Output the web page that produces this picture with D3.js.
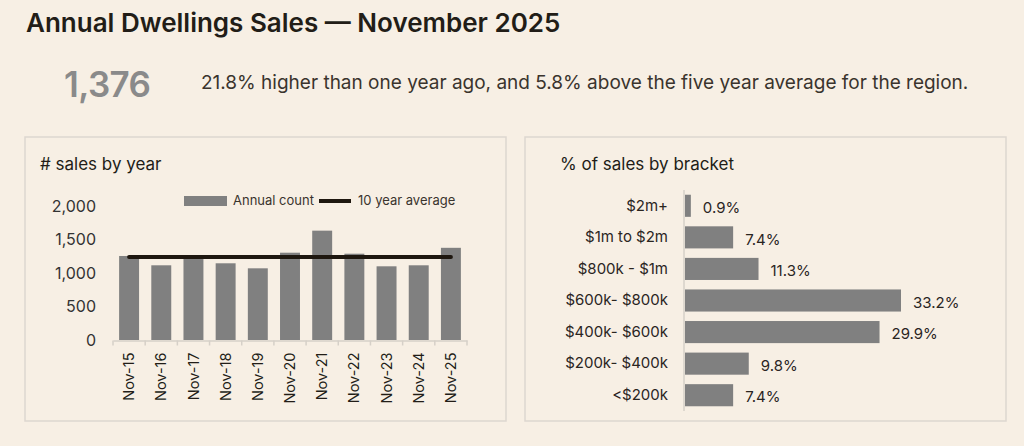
<!DOCTYPE html>
<html><head><meta charset="utf-8">
<script src="https://cdn.jsdelivr.net/npm/d3@7"></script>
<style>
html,body{margin:0;padding:0;background:#f7efe4;}
svg{display:block;font-family:Inter,"Noto Sans",sans-serif;}
</style></head>
<body>
<svg id="c" width="1024" height="446"></svg>
<script>
const years = ["Nov-15","Nov-16","Nov-17","Nov-18","Nov-19","Nov-20","Nov-21","Nov-22","Nov-23","Nov-24","Nov-25"];
const annualCount = [1254,1115,1235,1145,1070,1303,1632,1288,1100,1115,1376];
const tenYearAverage = 1240;
const yTicks = [0,500,1000,1500,2000];
const brackets = ["$2m+","$1m to $2m","$800k - $1m","$600k- $800k","$400k- $600k","$200k- $400k","<$200k"];
const bracketPct = [0.9,7.4,11.3,33.2,29.9,9.8,7.4];

const svg = d3.select("#c");
const dark = "#221d17", gray = "#808080", border = "#ddd7cf";

svg.append("text").attr("x",26).attr("y",32).attr("font-size",26).attr("font-weight",600)
  .attr("fill",dark).text("Annual Dwellings Sales — November 2025");
svg.append("text").attr("x",64).attr("y",97).attr("font-size",35).attr("font-weight",600)
  .attr("fill","#8a8a8a").attr("letter-spacing",-0.6).text("1,376");
svg.append("text").attr("x",201).attr("y",89).attr("font-size",19)
  .attr("fill","#3a342d").text("21.8% higher than one year ago, and 5.8% above the five year average for the region.");

// panels
[[25,137],[525,137]].forEach(([x,y])=>{
  svg.append("rect").attr("x",x).attr("y",y).attr("width",481).attr("height",284)
    .attr("fill","none").attr("stroke",border).attr("stroke-width",1.5);
});

// left chart
svg.append("text").attr("x",40).attr("y",170).attr("font-size",17).attr("fill",dark).text("# sales by year");
const x = d3.scaleBand().domain(years).range([113,467]).paddingInner(0.38).paddingOuter(0.19);
const y = d3.scaleLinear().domain([0,2000]).range([340,206]);
const g = svg.append("g");
g.selectAll("rect.bar").data(years).join("rect").attr("class","bar")
  .attr("x",d=>x(d)).attr("width",x.bandwidth())
  .attr("y",(d,i)=>y(annualCount[i])).attr("height",(d,i)=>y(0)-y(annualCount[i]))
  .attr("fill",gray);
// y axis labels
const ya = svg.append("g").attr("transform","translate(96,0)")
  .call(d3.axisLeft(y).tickValues(yTicks).tickSize(0).tickPadding(0).tickFormat(d3.format(",")));
ya.select(".domain").remove();
ya.selectAll("text").attr("font-size",16).attr("fill","#333").attr("font-family","Inter,sans-serif");
// x axis
const xa = svg.append("g").attr("transform","translate(0,340.5)")
  .call(d3.axisBottom(x).tickSize(0));
xa.select(".domain").attr("stroke","#d6d0c8").attr("stroke-width",1.5);
xa.selectAll(".tick line").remove();
const bounds = years.map(d=>x(d)-x.step()*x.paddingInner()/2).concat([467]);
xa.selectAll("line.sep").data(bounds).join("line").attr("class","sep")
  .attr("x1",d=>d).attr("x2",d=>d).attr("y1",0).attr("y2",5).attr("stroke","#d6d0c8").attr("stroke-width",1.5);
xa.selectAll(".tick text").attr("font-size",14.5).attr("fill",dark).attr("font-family","Inter,sans-serif")
  .attr("transform","rotate(-90)").attr("text-anchor","end").attr("x",-12).attr("y",0).attr("dy","0.35em");
// average line
svg.append("line").attr("x1",x(years[0])+x.bandwidth()/2).attr("x2",x(years[years.length-1])+x.bandwidth()/2)
  .attr("y1",y(tenYearAverage)).attr("y2",y(tenYearAverage)).attr("stroke","#1e170f").attr("stroke-width",4).attr("stroke-linecap","round");
// legend
svg.append("rect").attr("x",184).attr("y",196).attr("width",43).attr("height",10).attr("fill",gray);
svg.append("text").attr("x",233).attr("y",205).attr("font-size",13).attr("fill","#3a342d").text("Annual count");
svg.append("line").attr("x1",319).attr("x2",351).attr("y1",201).attr("y2",201).attr("stroke","#1e170f").attr("stroke-width",4);
svg.append("text").attr("x",358).attr("y",205).attr("font-size",13).attr("fill","#3a342d").text("10 year average");

// right chart
svg.append("text").attr("x",560).attr("y",170).attr("font-size",17).attr("fill",dark).text("% of sales by bracket");
const yb = d3.scaleBand().domain(brackets).range([190,411]).paddingInner(0.3).paddingOuter(0.15);
const xb = d3.scaleLinear().domain([0,33.2]).range([685,901]);
svg.append("line").attr("x1",684).attr("x2",684).attr("y1",190).attr("y2",411).attr("stroke","#d6d0c8").attr("stroke-width",1.5);
svg.selectAll("rect.hb").data(brackets).join("rect").attr("class","hb")
  .attr("x",xb(0)).attr("y",d=>yb(d)).attr("height",yb.bandwidth())
  .attr("width",(d,i)=>xb(bracketPct[i])-xb(0)).attr("fill",gray);
svg.selectAll("text.vl").data(brackets).join("text").attr("class","vl")
  .attr("x",(d,i)=>xb(bracketPct[i])+12).attr("y",d=>yb(d)+yb.bandwidth()/2+2).attr("dy","0.35em")
  .attr("font-size",15).attr("fill","#2a251f").text((d,i)=>bracketPct[i].toFixed(1)+"%");
const yba = svg.append("g").attr("transform","translate(668,0)")
  .call(d3.axisLeft(yb).tickSize(0).tickPadding(0));
yba.select(".domain").remove();
yba.selectAll("text").attr("font-size",15).attr("fill","#2a251f").attr("font-family","Inter,sans-serif");
</script>
</body></html>
